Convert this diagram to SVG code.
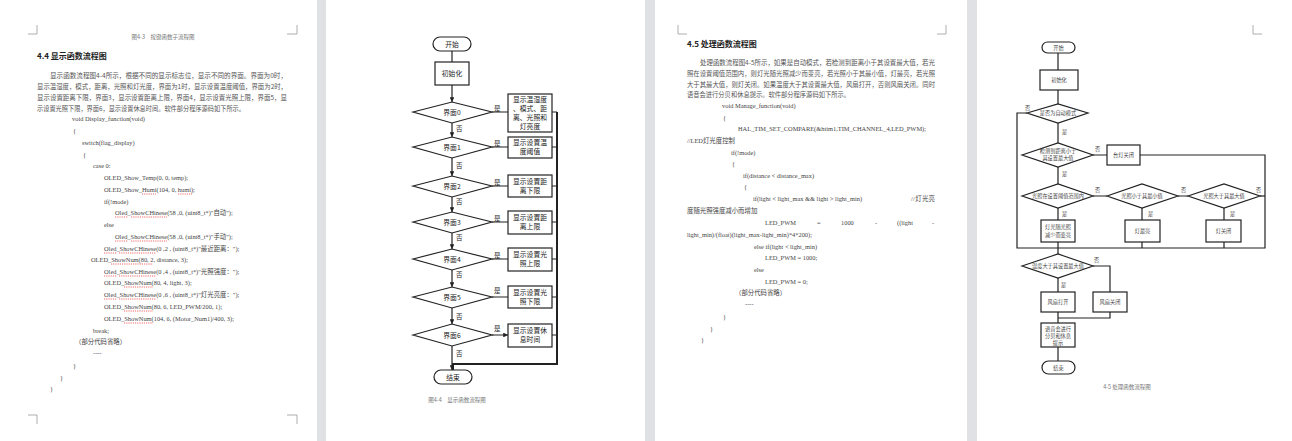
<svg xmlns="http://www.w3.org/2000/svg" width="1292" height="441" viewBox="0 0 1292 441">
<style>
.pg{fill:#fff}
.cm{stroke:#999;stroke-width:0.8;fill:none}
.cn{font-family:"Noto Sans CJK SC",sans-serif;font-size:6.3px;fill:#555}
.h{font-family:"Noto Sans CJK SC",sans-serif;font-size:8px;font-weight:bold;fill:#222}
.code{font-family:"Liberation Serif","Noto Sans CJK SC",serif;font-size:6.4px;fill:#444}
.cap{font-family:"Noto Sans CJK SC",sans-serif;font-size:5.5px;fill:#777;text-anchor:middle}
.sh{fill:#fff;stroke:#222;stroke-width:1.2}
.ln{fill:none;stroke:#222;stroke-width:1.2}
.lt{font-family:"Noto Sans CJK SC",sans-serif;font-size:6.8px;fill:#222;text-anchor:middle}
.lt2{font-family:"Noto Sans CJK SC",sans-serif;font-size:5.2px;fill:#444;text-anchor:middle}
.lb{font-family:"Noto Sans CJK SC",sans-serif;font-size:6.5px;fill:#222}
.lb2{font-family:"Noto Sans CJK SC",sans-serif;font-size:5.2px;fill:#444}
.ul{stroke:#e00;stroke-width:0.6;stroke-dasharray:1.2 1}
</style>
<defs><marker id="a" viewBox="0 0 6 6" refX="6" refY="3" markerWidth="4" markerHeight="4" orient="auto"><path d="M0,0L6,3L0,6z" fill="#222"/></marker></defs>
<rect width="1292" height="441" fill="#dfe1e5"/>
<rect class="pg" x="0" y="0" width="317" height="441"/>
<rect class="pg" x="326" y="0" width="319" height="441"/>
<rect class="pg" x="655" y="0" width="312" height="441"/>
<rect class="pg" x="977" y="0" width="315" height="441"/>

<g id="page1">
<path class="cm" d="M28,34H37V25M297,25V34H287M28,415H37V424M297,424V415H287"/>
<text class="cap" x="163" y="39">图4-3　按键函数子流程图</text>
<text class="h" x="37" y="59">4.4  显示函数流程图</text>
<text class="cn" x="50" y="78" textLength="237" lengthAdjust="spacingAndGlyphs">显示函数流程图4-4所示，根据不同的显示标志位，显示不同的界面。界面为0时，</text>
<text class="cn" x="37" y="89" textLength="250" lengthAdjust="spacingAndGlyphs">显示温湿度，模式，距离，光照和灯光度，界面为1时，显示设置温度阈值，界面为2时，</text>
<text class="cn" x="37" y="100" textLength="250" lengthAdjust="spacingAndGlyphs">显示设置距离下限，界面3，显示设置距离上限，界面4，显示设置光照上限，界面5，显</text>
<text class="cn" x="37" y="111" textLength="208" lengthAdjust="spacingAndGlyphs">示设置光照下限，界面6，显示设置休息时间。软件部分程序源码如下所示。</text>
<text class="code" x="72" y="121">void Display_function(void)</text>
<text class="code" x="73" y="133">{</text>
<text class="code" x="82" y="145">switch(flag_display)</text>
<text class="code" x="83" y="157">{</text>
<text class="code" x="93" y="168">case 0:</text>
<text class="code" x="104" y="180">OLED_Show_Temp(0, 0, temp);</text>
<text class="code" x="104" y="192">OLED_Show_Humi(104, 0, humi);</text>
<text class="code" x="104" y="204">if(!mode)</text>
<text class="code" x="115" y="215">Oled_ShowCHinese(58 ,0, (uint8_t*)"自动");</text>
<text class="code" x="104" y="227">else</text>
<text class="code" x="115" y="239">Oled_ShowCHinese(58 ,0, (uint8_t*)"手动");</text>
<text class="code" x="104" y="251">Oled_ShowCHinese(0 ,2 , (uint8_t*)"最近距离：");</text>
<text class="code" x="91" y="262">OLED_ShowNum(80, 2, distance, 3);</text>
<text class="code" x="104" y="274">Oled_ShowCHinese(0 ,4 , (uint8_t*)"光照强度：");</text>
<text class="code" x="104" y="285">OLED_ShowNum(80, 4, light, 3);</text>
<text class="code" x="104" y="297">Oled_ShowCHinese(0 ,6 , (uint8_t*)"灯光亮度：");</text>
<text class="code" x="104" y="309">OLED_ShowNum(80, 6, LED_PWM/200, 1);</text>
<text class="code" x="104" y="321">OLED_ShowNum(104, 6, (Motor_Num1)/400, 3);</text>
<text class="code" x="93" y="333">break;</text>
<text class="code" x="75" y="344">（部分代码省略）</text>
<text class="code" x="93" y="355">----</text>
<text class="code" x="73" y="368">}</text>
<text class="code" x="60" y="380">}</text>
<text class="code" x="50" y="391">}</text>
<path class="ul" d="M142,194H156M178,194H192M115,217H128M131,217H167M115,241H128M131,241H167M104,253H117M119,253H156M111,264H153M104,276H117M119,276H156M124,287H153M104,299H117M119,299H156M124,311H153M124,323H153"/>
</g>

<g id="flow1">
<g id="f1-start"><rect class="sh" x="433" y="37" width="38" height="14" rx="7"/><text class="lt" x="452" y="46.5">开始</text></g>
<g id="f1-init"><rect class="sh" x="435" y="62" width="34" height="23"/><text class="lt" x="452" y="76">初始化</text></g>
<g id="f1-d0"><path class="sh" d="M413,112L452,102L492,112L452,123z"/><text class="lt" x="452" y="115">界面0</text></g>
<g id="f1-b0"><rect class="sh" x="508" y="94" width="44" height="38"/><text class="lt" x="530" y="102">显示温湿度</text><text class="lt" x="530" y="111">、模式、距</text><text class="lt" x="530" y="120">离、光照和</text><text class="lt" x="530" y="129">灯亮度</text></g>
<g id="f1-d1"><path class="sh" d="M413,147L452,137L492,147L452,158z"/><text class="lt" x="452" y="150">界面1</text></g>
<g id="f1-b1"><rect class="sh" x="508" y="137" width="44" height="21"/><text class="lt" x="530" y="145">显示设置温</text><text class="lt" x="530" y="154">度阈值</text></g>
<g id="f1-d2"><path class="sh" d="M413,186L452,176L492,186L452,197z"/><text class="lt" x="452" y="189">界面2</text></g>
<g id="f1-b2"><rect class="sh" x="508" y="175" width="44" height="22"/><text class="lt" x="530" y="184">显示设置距</text><text class="lt" x="530" y="193">离下限</text></g>
<g id="f1-d3"><path class="sh" d="M413,222L452,212L492,222L452,233z"/><text class="lt" x="452" y="225">界面3</text></g>
<g id="f1-b3"><rect class="sh" x="508" y="211" width="44" height="23"/><text class="lt" x="530" y="220">显示设置距</text><text class="lt" x="530" y="229">离上限</text></g>
<g id="f1-d4"><path class="sh" d="M413,259L452,249L492,259L452,270z"/><text class="lt" x="452" y="262">界面4</text></g>
<g id="f1-b4"><rect class="sh" x="508" y="248" width="44" height="23"/><text class="lt" x="530" y="257">显示设置光</text><text class="lt" x="530" y="266">照上限</text></g>
<g id="f1-d5"><path class="sh" d="M413,297L452,287L492,297L452,308z"/><text class="lt" x="452" y="300">界面5</text></g>
<g id="f1-b5"><rect class="sh" x="508" y="286" width="44" height="22"/><text class="lt" x="530" y="295">显示设置光</text><text class="lt" x="530" y="304">照下限</text></g>
<g id="f1-d6"><path class="sh" d="M413,335L452,324L492,335L452,346z"/><text class="lt" x="452" y="338">界面6</text></g>
<g id="f1-b6"><rect class="sh" x="508" y="324" width="44" height="23"/><text class="lt" x="530" y="333">显示设置休</text><text class="lt" x="530" y="342">息时间</text></g>
<g id="f1-end"><rect class="sh" x="434" y="370" width="38" height="14" rx="7"/><text class="lt" x="453" y="379.5">结束</text></g>
<text class="cap" x="457" y="402">图4-4　显示函数流程图</text>
</g>

<g id="connectors1">
<path class="ln" d="M452,51V62"/>
<path class="ln" d="M452,85V102" marker-end="url(#a)"/>
<path class="ln" d="M452,123V137" marker-end="url(#a)"/>
<path class="ln" d="M452,158V176" marker-end="url(#a)"/>
<path class="ln" d="M452,197V212" marker-end="url(#a)"/>
<path class="ln" d="M452,233V249" marker-end="url(#a)"/>
<path class="ln" d="M452,270V287" marker-end="url(#a)"/>
<path class="ln" d="M452,308V324" marker-end="url(#a)"/>
<path class="ln" d="M452,346V370" marker-end="url(#a)"/>
<path class="ln" d="M492,112H508M492,147H508M492,186H508M492,222H508M492,259H508M492,297H508M492,335H508" marker-end="url(#a)"/>
<path class="ln" d="M552,112H557M552,147H557M552,186H557M552,222H557M552,259H557M552,297H557M552,335H557"/>
<path class="ln" style="stroke-width:2" d="M557,112V364H453V370"/>
<text class="lb" x="494" y="111">是</text><text class="lb" x="494" y="146">是</text><text class="lb" x="494" y="185">是</text><text class="lb" x="494" y="221">是</text><text class="lb" x="494" y="258">是</text><text class="lb" x="494" y="293">是</text><text class="lb" x="494" y="331">是</text>
<text class="lb" x="456" y="131">否</text><text class="lb" x="456" y="168">否</text><text class="lb" x="456" y="204">否</text><text class="lb" x="456" y="240">否</text><text class="lb" x="456" y="277">否</text><text class="lb" x="456" y="319">否</text><text class="lb" x="456" y="356">否</text>
</g>

<g id="page3">
<path class="cm" d="M678,25V34H687M946,25V34H937"/>
<text class="h" x="687" y="47">4.5  处理函数流程图</text>
<text class="cn" x="700" y="65" textLength="235" lengthAdjust="spacingAndGlyphs">处理函数流程图4-5所示，如果是自动模式，若检测到距离小于其设置最大值，若光</text>
<text class="cn" x="687" y="76" textLength="248" lengthAdjust="spacingAndGlyphs">照在设置阈值范围内，则灯光随光照减少而变亮，若光照小于其最小值，灯最亮，若光照</text>
<text class="cn" x="687" y="87" textLength="248" lengthAdjust="spacingAndGlyphs">大于其最大值，则灯关闭。如果温度大于其设置最大值，风扇打开，否则风扇关闭。同时</text>
<text class="cn" x="687" y="97" textLength="163" lengthAdjust="spacingAndGlyphs">语音会进行分贝和休息提示。软件部分程序源码如下所示。</text>
<text class="code" x="722" y="108">void Manage_function(void)</text>
<text class="code" x="723" y="120">{</text>
<text class="code" x="738" y="131" textLength="188" lengthAdjust="spacing">HAL_TIM_SET_COMPARE(&amp;htim1,TIM_CHANNEL_4,LED_PWM);</text>
<text class="code" x="687" y="143">//LED灯光度控制</text>
<text class="code" x="731" y="155">if(!mode)</text>
<text class="code" x="732" y="166">{</text>
<text class="code" x="743" y="178">if(distance &lt; distance_max)</text>
<text class="code" x="744" y="189">{</text>
<text class="code" x="753" y="201">if(light &lt; light_max &amp;&amp; light &gt; light_min)</text>
<text class="code" x="911" y="201" textLength="24" lengthAdjust="spacing">//灯光亮</text>
<text class="code" x="687" y="213">度随光照强度减小而增加</text>
<text class="code" x="765" y="225">LED_PWM</text><text class="code" x="817" y="225">=</text><text class="code" x="841" y="225">1000</text><text class="code" x="875" y="225">-</text><text class="code" x="897" y="225">((light</text><text class="code" x="932" y="225">-</text>
<text class="code" x="687" y="237">light_min)/(float)(light_max-light_min)*4*200);</text>
<text class="code" x="754" y="249">else if(light &lt; light_min)</text>
<text class="code" x="765" y="260">LED_PWM = 1000;</text>
<text class="code" x="754" y="272">else</text>
<text class="code" x="765" y="284">LED_PWM = 0;</text>
<text class="code" x="735" y="295">（部分代码省略）</text>
<text class="code" x="745" y="306">----</text>
<text class="code" x="723" y="319">}</text>
<text class="code" x="710" y="331">}</text>
<text class="code" x="701" y="342">}</text>
</g>

<g id="flow2">
<path class="cm" d="M1253,25V34H1262"/>
<g id="f2-start"><rect class="sh" x="1042" y="42" width="33" height="11" rx="5.5"/><text class="lt2" x="1058.5" y="49.5">开始</text></g>
<g id="f2-init"><rect class="sh" x="1040" y="70" width="38" height="20"/><text class="lt2" x="1059" y="82">初始化</text></g>
<g id="f2-d1"><path class="sh" d="M1027,113L1058,104L1088,113L1058,123z"/><text class="lt2" x="1058" y="115">是否为自动模式</text></g>
<g id="f2-d2"><path class="sh" d="M1022,155L1058,143L1093,155L1058,167z"/><text class="lt2" x="1058" y="153">检测到距离小于</text><text class="lt2" x="1058" y="160">其设置最大值</text></g>
<g id="f2-off"><rect class="sh" x="1107" y="145" width="33" height="20"/><text class="lt2" x="1123.5" y="157">台灯关闭</text></g>
<g id="f2-d3"><path class="sh" d="M1022,196L1058,184L1093,196L1058,208z"/><text class="lt2" x="1058" y="198">光照在设置阈值范围内</text></g>
<g id="f2-d4"><path class="sh" d="M1107,196L1142,184L1178,196L1142,208z"/><text class="lt2" x="1142" y="198">光照小于其最小值</text></g>
<g id="f2-d5"><path class="sh" d="M1188,196L1224,184L1260,196L1224,208z"/><text class="lt2" x="1224" y="198">光照大于其最大值</text></g>
<g id="f2-b1"><rect class="sh" x="1041" y="220" width="34" height="22"/><text class="lt2" x="1058" y="229">灯光随光照</text><text class="lt2" x="1058" y="237">减少而变亮</text></g>
<g id="f2-b2"><rect class="sh" x="1125" y="220" width="35" height="22"/><text class="lt2" x="1142.5" y="233">灯最亮</text></g>
<g id="f2-b3"><rect class="sh" x="1206" y="220" width="35" height="22"/><text class="lt2" x="1223.5" y="233">灯关闭</text></g>
<g id="f2-d6"><path class="sh" d="M1022,266L1058,254L1093,266L1058,278z"/><text class="lt2" x="1058" y="268">温度大于其设置最大值</text></g>
<g id="f2-fon"><rect class="sh" x="1041" y="292" width="34" height="20"/><text class="lt2" x="1058" y="304">风扇打开</text></g>
<g id="f2-foff"><rect class="sh" x="1093" y="292" width="34" height="20"/><text class="lt2" x="1110" y="304">风扇关闭</text></g>
<g id="f2-voice"><rect class="sh" x="1041" y="323" width="34" height="24"/><text class="lt2" x="1058" y="331">语音会进行</text><text class="lt2" x="1058" y="338">分贝和休息</text><text class="lt2" x="1058" y="345">提示</text></g>
<g id="f2-end"><rect class="sh" x="1042" y="361" width="33" height="13" rx="6.5"/><text class="lt2" x="1058.5" y="369.5">结束</text></g>
<text class="cap" x="1127" y="389">4-5 处理函数流程图</text>
</g>

<g id="connectors2">
<path class="ln" d="M1058,53V70M1058,90V104M1058,123V143M1058,167V184M1058,208V220M1142,208V220M1224,208V220"/>
<path class="ln" d="M1093,155H1107M1093,196H1107M1178,196H1188"/>
<path class="ln" d="M1027,113H1017V248H1265V155H1140"/>
<path class="ln" d="M1260,196H1265"/>
<path class="ln" d="M1058,242V254M1142,242V248M1224,242V248"/>
<path class="ln" d="M1058,278V292M1093,266H1110V292"/>
<path class="ln" d="M1058,312V323M1110,312V318H1058"/>
<path class="ln" d="M1058,347V361"/>
<text class="lb2" x="1025" y="110">否</text>
<text class="lb2" x="1062" y="134">是</text>
<text class="lb2" x="1095" y="151">否</text>
<text class="lb2" x="1062" y="176">是</text>
<text class="lb2" x="1095" y="192">否</text>
<text class="lb2" x="1181" y="192">否</text>
<text class="lb2" x="1256" y="192">否</text>
<text class="lb2" x="1062" y="216">是</text>
<text class="lb2" x="1148" y="216">是</text>
<text class="lb2" x="1230" y="216">是</text>
<text class="lb2" x="1094" y="262">否</text>
<text class="lb2" x="1061" y="287">是</text>
</g>
</svg>
